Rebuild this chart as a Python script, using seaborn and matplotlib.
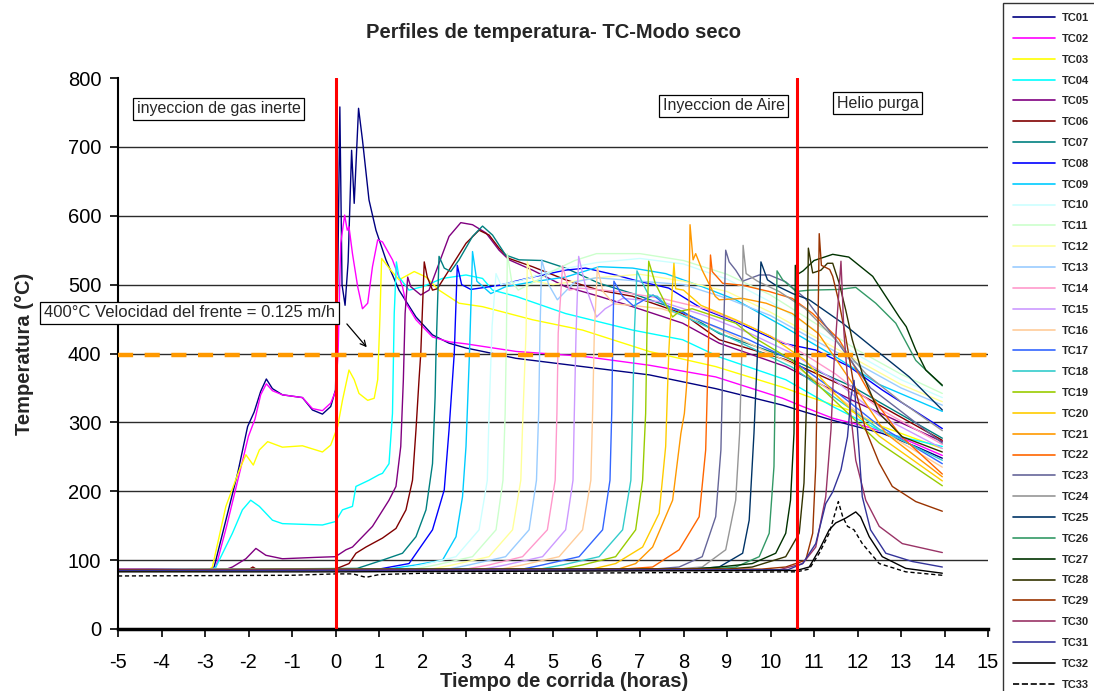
import matplotlib
matplotlib.use("Agg")
import matplotlib.pyplot as plt
from matplotlib.lines import Line2D
import pandas as pd
import seaborn as sns

# ---------------- data: time (h) and temperature (°C) per thermocouple ----------------
t_tc01 = [-5, -2.9, -2.79, -2.52, -2.25, -2.02, -1.87, -1.72, -1.59, -1.45, -1.22, -0.76, -0.53, -0.30, -0.11, 0.0, 0.05, 0.10, 0.15, 0.22, 0.29, 0.37, 0.43, 0.53, 0.62, 0.77, 0.93, 1.16, 1.46, 1.85, 2.23, 2.61, 3.0, 4.15, 5.68, 7.21, 8.74, 9.51, 10.28, 10.74, 11.43, 12.57, 13.34, 13.95]
T_tc01 = [86, 86, 90, 158, 226, 294, 315, 345, 363, 349, 340, 336, 318, 312, 323, 347, 500, 758, 500, 470, 533, 695, 618, 756, 710, 623, 579, 536, 492, 453, 427, 415, 408, 393, 381, 369, 349, 337, 325, 316, 303, 284, 265, 248]

t_tc02 = [-5, -2.9, -2.75, -2.5, -2.25, -2.0, -1.85, -1.72, -1.59, -1.45, -1.22, -0.76, -0.53, -0.30, -0.11, 0.0, 0.06, 0.12, 0.21, 0.27, 0.31, 0.39, 0.51, 0.62, 0.74, 0.85, 0.97, 1.08, 1.31, 1.54, 1.62, 1.85, 2.23, 2.61, 3.0, 4.15, 5.68, 7.21, 8.74, 10.28, 10.74, 11.43, 12.19, 12.96, 13.95]
T_tc02 = [85, 85, 90, 150, 215, 280, 305, 340, 356, 346, 340, 336, 320, 317, 328, 345, 400, 560, 601, 579, 584, 545, 497, 465, 473, 526, 565, 562, 536, 497, 473, 449, 424, 417, 414, 403, 396, 383, 366, 335, 323, 306, 294, 279, 252]

t_tc03 = [-5, -2.95, -2.83, -2.52, -2.21, -2.06, -1.89, -1.75, -1.56, -1.22, -0.76, -0.30, -0.11, 0.05, 0.16, 0.31, 0.43, 0.54, 0.74, 0.89, 0.97, 1.02, 1.06, 1.27, 1.46, 1.81, 2.08, 2.38, 2.84, 3.38, 4.53, 5.68, 7.21, 8.74, 10.28, 10.89, 11.8, 12.57, 13.95]
T_tc03 = [84, 84, 90, 178, 231, 253, 238, 260, 272, 264, 266, 257, 267, 294, 332, 376, 362, 342, 332, 335, 362, 450, 538, 521, 507, 519, 511, 492, 473, 468, 449, 434, 403, 381, 351, 337, 318, 294, 262]

t_tc04 = [-5, -2.85, -2.75, -2.37, -2.14, -1.95, -1.75, -1.45, -1.22, -0.30, 0.0, 0.16, 0.39, 0.47, 0.77, 1.0, 1.08, 1.23, 1.31, 1.35, 1.40, 1.46, 1.69, 2.0, 2.46, 3.0, 3.38, 3.61, 4.15, 5.29, 6.83, 7.98, 8.82, 10.35, 11.43, 12.65, 13.95]
T_tc04 = [86, 86, 90, 139, 173, 187, 178, 158, 153, 151, 156, 173, 178, 207, 216, 224, 226, 240, 313, 458, 533, 511, 492, 497, 509, 514, 509, 492, 483, 458, 434, 420, 395, 362, 323, 284, 265]

t_tc05 = [-5, -2.5, -2.37, -2.06, -1.83, -1.6, -1.22, -0.45, 0.0, 0.24, 0.39, 0.85, 1.23, 1.39, 1.50, 1.56, 1.60, 1.66, 1.73, 1.96, 2.15, 2.38, 2.61, 2.88, 3.15, 3.46, 3.76, 3.99, 4.53, 5.29, 6.06, 6.83, 7.98, 8.82, 10.35, 11.88, 13.95]
T_tc05 = [87, 87, 90, 102, 117, 107, 102, 104, 105, 115, 119, 149, 187, 207, 265, 362, 458, 511, 497, 485, 492, 531, 570, 590, 587, 575, 550, 536, 521, 497, 483, 468, 444, 415, 381, 332, 272]

t_tc06 = [-5, -2.0, -1.9, -1.8, 0.0, 0.31, 0.47, 0.70, 1.08, 1.39, 1.62, 1.77, 1.85, 1.92, 1.96, 2.04, 2.11, 2.23, 2.34, 2.61, 3.0, 3.30, 3.53, 3.76, 3.99, 4.53, 5.29, 6.06, 6.83, 7.98, 8.82, 10.35, 11.88, 13.95]
T_tc06 = [86, 86, 90, 86, 87, 95, 110, 119, 132, 146, 173, 216, 289, 362, 400, 533, 511, 492, 494, 521, 560, 579, 572, 553, 538, 526, 507, 492, 483, 458, 420, 391, 347, 274]

t_tc07 = [-5, 0.5, 1.08, 1.54, 1.85, 2.08, 2.23, 2.29, 2.31, 2.38, 2.50, 2.65, 2.84, 3.15, 3.38, 3.61, 3.91, 4.22, 4.76, 5.29, 6.06, 6.83, 7.98, 8.82, 10.35, 11.88, 13.95]
T_tc07 = [86, 88, 100, 110, 134, 173, 240, 337, 400, 541, 524, 519, 536, 570, 585, 572, 543, 536, 535, 524, 502, 487, 461, 429, 395, 352, 277]

t_tc08 = [-5, 1.0, 1.69, 2.23, 2.50, 2.61, 2.73, 2.80, 2.90, 3.11, 3.76, 4.53, 5.29, 5.75, 6.44, 6.90, 7.66, 8.43, 9.20, 10.28, 11.04, 11.81, 12.57, 13.95]
T_tc08 = [85, 87, 95, 144, 202, 289, 400, 528, 500, 493, 499, 511, 521, 524, 514, 506, 495, 465, 446, 415, 405, 381, 347, 291]

t_tc09 = [-5, 1.2, 1.85, 2.46, 2.77, 2.92, 3.0, 3.08, 3.15, 3.25, 3.57, 3.91, 4.53, 5.29, 6.06, 6.83, 7.59, 8.43, 9.20, 10.28, 11.5, 12.5, 13.95]
T_tc09 = [86, 87, 93, 100, 134, 192, 265, 400, 548, 505, 487, 497, 504, 511, 526, 524, 516, 497, 478, 440, 395, 355, 316]

t_tc10 = [-5, 1.5, 2.0, 2.77, 3.30, 3.49, 3.53, 3.60, 3.69, 3.80, 4.2, 5.0, 6.0, 7.0, 8.0, 9.0, 10.0, 11.0, 12.0, 13.0, 13.95]
T_tc10 = [86, 87, 93, 105, 144, 216, 313, 440, 516, 500, 505, 520, 532, 538, 530, 508, 475, 435, 398, 362, 336]

t_tc11 = [-5, 1.8, 2.31, 3.15, 3.69, 3.85, 3.90, 3.93, 3.95, 4.05, 4.2, 4.6, 5.0, 5.5, 6.0, 7.0, 8.0, 9.0, 10.0, 11.0, 12.0, 13.0, 13.95]
T_tc11 = [86, 87, 93, 105, 144, 216, 313, 430, 545, 505, 492, 505, 520, 535, 545, 545, 535, 515, 485, 445, 405, 370, 342]

t_tc12 = [-5, 2.2, 2.69, 3.53, 4.07, 4.26, 4.31, 4.38, 4.41, 4.55, 5.0, 6.0, 7.0, 8.0, 9.0, 10.0, 11.0, 12.0, 13.0, 13.95]
T_tc12 = [86, 87, 93, 105, 144, 216, 313, 430, 533, 505, 500, 510, 515, 505, 490, 460, 425, 390, 355, 330]

t_tc13 = [-5, 2.6, 3.07, 3.91, 4.45, 4.62, 4.67, 4.70, 4.74, 4.90, 5.10, 5.50, 6.0, 7.0, 8.0, 9.0, 10.0, 11.0, 12.0, 13.0, 13.95]
T_tc13 = [86, 87, 93, 105, 144, 216, 313, 430, 536, 500, 478, 504, 510, 505, 500, 480, 455, 420, 385, 350, 325]

t_tc14 = [-5, 3.0, 3.53, 4.30, 4.87, 5.05, 5.09, 5.12, 5.22, 5.37, 5.6, 6.5, 7.5, 8.5, 9.5, 10.5, 11.5, 12.5, 13.95]
T_tc14 = [86, 87, 93, 105, 144, 216, 313, 430, 527, 492, 495, 490, 480, 465, 440, 410, 370, 320, 268]

t_tc15 = [-5, 3.4, 3.91, 4.76, 5.29, 5.46, 5.49, 5.53, 5.59, 5.75, 6.0, 6.2, 6.6, 7.5, 8.5, 9.5, 10.5, 11.5, 12.5, 13.95]
T_tc15 = [86, 87, 93, 105, 144, 216, 313, 430, 541, 497, 453, 465, 480, 475, 455, 430, 400, 360, 310, 262]

t_tc16 = [-5, 3.8, 4.30, 5.14, 5.68, 5.87, 5.91, 5.95, 6.02, 6.15, 6.4, 6.8, 7.5, 8.5, 9.5, 10.5, 11.5, 12.5, 13.95]
T_tc16 = [86, 87, 93, 105, 144, 216, 313, 430, 525, 490, 472, 470, 465, 445, 415, 385, 340, 290, 235]

t_tc17 = [-5, 4.3, 4.76, 5.60, 6.14, 6.31, 6.35, 6.37, 6.40, 6.60, 6.85, 7.10, 7.30, 7.60, 8.5, 9.5, 10.5, 11.5, 12.5, 13.95]
T_tc17 = [86, 87, 93, 105, 144, 216, 313, 400, 505, 483, 469, 478, 485, 470, 445, 420, 390, 345, 295, 240]

t_tc18 = [-5, 4.7, 5.22, 6.06, 6.60, 6.79, 6.83, 6.87, 6.93, 7.06, 7.20, 7.40, 7.70, 8.5, 9.5, 10.5, 11.5, 12.5, 13.95]
T_tc18 = [86, 87, 93, 105, 144, 216, 313, 430, 520, 502, 485, 483, 463, 440, 410, 380, 335, 290, 245]

t_tc19 = [-5, 5.2, 5.68, 6.44, 6.90, 7.06, 7.13, 7.16, 7.20, 7.35, 7.66, 7.75, 7.90, 8.20, 9.20, 9.60, 10.5, 11.5, 12.5, 13.95]
T_tc19 = [86, 87, 93, 105, 144, 216, 313, 430, 534, 502, 463, 453, 461, 465, 444, 424, 390, 330, 270, 208]

t_tc20 = [-5, 5.9, 6.44, 7.06, 7.44, 7.59, 7.66, 7.72, 7.78, 7.82, 8.0, 8.4, 9.2, 10.0, 10.8, 11.5, 12.5, 13.95]
T_tc20 = [86, 87, 95, 119, 168, 265, 400, 470, 531, 494, 492, 470, 449, 425, 390, 340, 280, 215]

t_tc21 = [-5, 6.5, 6.9, 7.29, 7.75, 7.94, 8.02, 8.07, 8.11, 8.15, 8.22, 8.28, 8.43, 8.73, 8.82, 9.36, 9.90, 10.5, 11.1, 11.88, 12.65, 13.95]
T_tc21 = [86, 87, 95, 119, 187, 284, 313, 352, 400, 587, 536, 545, 521, 483, 478, 480, 473, 458, 429, 357, 284, 221]

t_tc22 = [-5, 6.6, 7.29, 7.90, 8.36, 8.51, 8.57, 8.62, 8.66, 8.90, 9.36, 9.97, 10.50, 10.97, 11.58, 12.30, 13.0, 13.95]
T_tc22 = [86, 87, 90, 115, 163, 260, 400, 543, 519, 502, 499, 490, 480, 458, 420, 340, 280, 225]

t_tc23 = [-5, 7.3, 7.90, 8.43, 8.74, 8.86, 8.91, 8.97, 9.05, 9.20, 9.36, 9.74, 9.97, 10.35, 10.8, 11.5, 12.3, 13.95]
T_tc23 = [86, 87, 90, 105, 163, 260, 400, 550, 533, 521, 505, 514, 514, 504, 480, 420, 350, 270]

t_tc24 = [-5, 7.8, 8.43, 8.97, 9.20, 9.29, 9.34, 9.37, 9.44, 9.70, 10.2, 10.8, 11.5, 12.2, 13.0, 13.95]
T_tc24 = [86, 87, 90, 115, 187, 284, 400, 557, 516, 505, 490, 465, 420, 370, 330, 288]

t_tc25 = [-5, 8.2, 8.82, 9.36, 9.51, 9.62, 9.70, 9.78, 9.93, 10.12, 10.51, 10.89, 11.66, 12.42, 13.19, 13.95]
T_tc25 = [86, 87, 90, 110, 158, 284, 400, 533, 507, 499, 487, 478, 444, 405, 366, 318]

t_tc26 = [-5, 8.6, 9.20, 9.74, 9.97, 10.08, 10.12, 10.15, 10.28, 10.59, 10.89, 11.58, 11.96, 12.42, 12.88, 13.34, 13.95]
T_tc26 = [86, 87, 90, 105, 139, 236, 400, 520, 507, 490, 492, 493, 496, 473, 444, 390, 353]

t_tc27 = [-5, 8.2, 8.82, 9.58, 10.12, 10.35, 10.46, 10.54, 10.56, 10.57, 10.65, 10.75, 11.0, 11.43, 11.8, 12.35, 12.96, 13.12, 13.34, 13.57, 13.95]
T_tc27 = [86, 87, 90, 95, 110, 139, 187, 284, 400, 528, 516, 520, 535, 544, 540, 512, 453, 439, 405, 376, 354]

t_tc28 = [-5, 9.0, 9.58, 10.35, 10.66, 10.77, 10.83, 10.87, 10.97, 11.16, 11.31, 11.43, 11.58, 11.73, 11.88, 12.11, 12.5, 13.03, 13.95]
T_tc28 = [86, 87, 90, 105, 139, 212, 332, 553, 517, 521, 531, 531, 502, 463, 420, 371, 313, 279, 257]

t_tc29 = [-5, 9.8, 10.35, 10.81, 10.97, 11.04, 11.08, 11.12, 11.17, 11.36, 11.43, 11.58, 11.73, 11.9, 12.19, 12.5, 12.8, 13.34, 13.95]
T_tc29 = [86, 87, 90, 100, 139, 236, 381, 574, 528, 522, 512, 473, 424, 360, 289, 241, 207, 185, 171]

t_tc30 = [-5, 10.2, 10.74, 11.04, 11.27, 11.39, 11.46, 11.62, 11.69, 11.81, 11.96, 12.19, 12.5, 13.03, 13.95]
T_tc30 = [85, 86, 95, 119, 192, 289, 386, 534, 429, 332, 245, 187, 149, 124, 111]

t_tc31 = [-5, 10.4, 10.74, 11.04, 11.27, 11.43, 11.62, 11.77, 11.85, 11.92, 12.0, 12.11, 12.3, 12.65, 13.26, 13.95]
T_tc31 = [85, 86, 95, 124, 182, 199, 231, 279, 337, 361, 289, 192, 144, 110, 98, 90]

t_tc32 = [-5, 0.0, 5.0, 10.6, 10.89, 11.12, 11.35, 11.5, 11.73, 11.96, 12.07, 12.27, 12.57, 13.11, 13.95]
T_tc32 = [83, 83, 84, 85, 90, 115, 144, 154, 161, 170, 163, 134, 105, 88, 81]

t_tc33 = [-5, -1.0, 0.0, 0.4, 0.7, 1.0, 2.0, 5.0, 8.0, 10.6, 10.89, 11.12, 11.35, 11.46, 11.56, 11.66, 11.77, 11.92, 12.11, 12.5, 13.11, 13.95]
T_tc33 = [77, 78, 80, 80, 75, 79, 81, 81, 82, 83, 87, 110, 139, 163, 185, 163, 149, 144, 124, 95, 83, 78]

labels = [f"TC{i:02d}" for i in range(1, 34)]
colors = ["#000080", "#FF00FF", "#FFFF00", "#00FFFF", "#800080", "#800000", "#008080",
          "#0000FF", "#00CCFF", "#CCFFFF", "#CCFFCC", "#FFFF99", "#99CCFF", "#FF99CC",
          "#CC99FF", "#FFCC99", "#3366FF", "#33CCCC", "#99CC00", "#FFCC00", "#FF9900",
          "#FF6600", "#666699", "#969696", "#003366", "#339966", "#003300", "#333300",
          "#993300", "#993366", "#333399", "#000000", "#000000"]

times = [t_tc01, t_tc02, t_tc03, t_tc04, t_tc05, t_tc06, t_tc07, t_tc08, t_tc09, t_tc10,
         t_tc11, t_tc12, t_tc13, t_tc14, t_tc15, t_tc16, t_tc17, t_tc18, t_tc19, t_tc20,
         t_tc21, t_tc22, t_tc23, t_tc24, t_tc25, t_tc26, t_tc27, t_tc28, t_tc29, t_tc30,
         t_tc31, t_tc32, t_tc33]
temps = [T_tc01, T_tc02, T_tc03, T_tc04, T_tc05, T_tc06, T_tc07, T_tc08, T_tc09, T_tc10,
         T_tc11, T_tc12, T_tc13, T_tc14, T_tc15, T_tc16, T_tc17, T_tc18, T_tc19, T_tc20,
         T_tc21, T_tc22, T_tc23, T_tc24, T_tc25, T_tc26, T_tc27, T_tc28, T_tc29, T_tc30,
         T_tc31, T_tc32, T_tc33]

# event markers
t_air = 0.0          # start of air injection
t_helium = 10.6      # start of helium purge
front_temp = 398     # reference isotherm for the front velocity

# ---------------- figure ----------------
sns.set_style("white")
plt.rcParams["font.family"] = ["Liberation Sans", "DejaVu Sans"]
plt.rcParams["axes.unicode_minus"] = False

rows = []
for name, tt, TT in zip(labels, times, temps):
    for a, b in zip(tt, TT):
        rows.append((name, a, b))
df = pd.DataFrame(rows, columns=["serie", "t", "temp"])

fig, ax = plt.subplots(figsize=(10.94, 6.91), dpi=100)
fig.subplots_adjust(left=118 / 1094, right=988 / 1094, bottom=62 / 691, top=613 / 691)

ax.set_xlim(-5, 15)
ax.set_ylim(0, 800)
ax.set_xticks(range(-5, 16))
ax.set_yticks(range(0, 801, 100))

for y in range(100, 800, 100):
    ax.axhline(y, color="#2b2b2b", lw=1.0, zorder=0.5)

palette = dict(zip(labels, colors))
dash_map = {name: "" for name in labels}
dash_map["TC33"] = (3, 2)
sns.lineplot(data=df, x="t", y="temp", hue="serie", style="serie", palette=palette,
             dashes=dash_map, estimator=None, sort=False, legend=False,
             linewidth=1.0, ax=ax, zorder=2)

ax.axvline(t_air, color="#FF0000", lw=2.2, zorder=3)
ax.axvline(t_helium, color="#FF0000", lw=2.2, zorder=3)
ax.axhline(front_temp, color="#FF9900", lw=3.2, dashes=(3.4, 2.6), zorder=3)

box = dict(boxstyle="square,pad=0.22", fc="white", ec="black", lw=0.9)
ax.text(-2.68, 755, "inyeccion de gas inerte", ha="center", va="center", fontsize=11.5, bbox=box, zorder=4)
ax.text(8.93, 760, "Inyeccion de Aire", ha="center", va="center", fontsize=11.5, bbox=box, zorder=4)
ax.text(12.46, 763, "Helio purga", ha="center", va="center", fontsize=11.5, bbox=box, zorder=4)
ax.text(-3.36, 459, "400°C Velocidad del frente = 0.125 m/h", ha="center", va="center",
        fontsize=12, bbox=box, zorder=4, clip_on=False)
ax.annotate("", xy=(0.76, 406), xytext=(0.22, 446),
            arrowprops=dict(arrowstyle="->", color="black", lw=0.9), zorder=4)

for side in ["top", "right"]:
    ax.spines[side].set_visible(False)
ax.spines["left"].set_color("black")
ax.spines["left"].set_linewidth(1.5)
ax.spines["bottom"].set_color("black")
ax.spines["bottom"].set_linewidth(2.5)
ax.tick_params(axis="both", direction="out", length=6, width=1.2, color="black",
               labelsize=14.5, labelcolor="black", bottom=True, left=True)
ax.tick_params(axis="x", pad=11)
ax.tick_params(axis="y", pad=6)

ax.set_title("Perfiles de temperatura- TC-Modo seco", fontsize=14.5, fontweight="bold", pad=29)
ax.set_xlabel("Tiempo de corrida (horas)", fontsize=14.5, fontweight="bold", labelpad=0)
ax.xaxis.set_label_coords(0.513, -0.078)
ax.set_ylabel("Temperatura (°C)", fontsize=14.5, fontweight="bold", labelpad=24)

handles = []
for name, c in zip(labels, colors):
    ls = "--" if name == "TC33" else "-"
    handles.append(Line2D([0], [0], color=c, lw=1.2, linestyle=ls))
leg = fig.legend(handles, labels, loc="upper left", bbox_to_anchor=(1003 / 1094, 1 - 3 / 691),
                 frameon=True, fancybox=False, edgecolor="black",
                 prop={"weight": "bold", "size": 8}, handlelength=3.8, handletextpad=0.6,
                 labelspacing=0.975, borderpad=0.9, borderaxespad=0)
leg.get_frame().set_linewidth(1.0)

fig.savefig("out.png", dpi=100, facecolor="white")
